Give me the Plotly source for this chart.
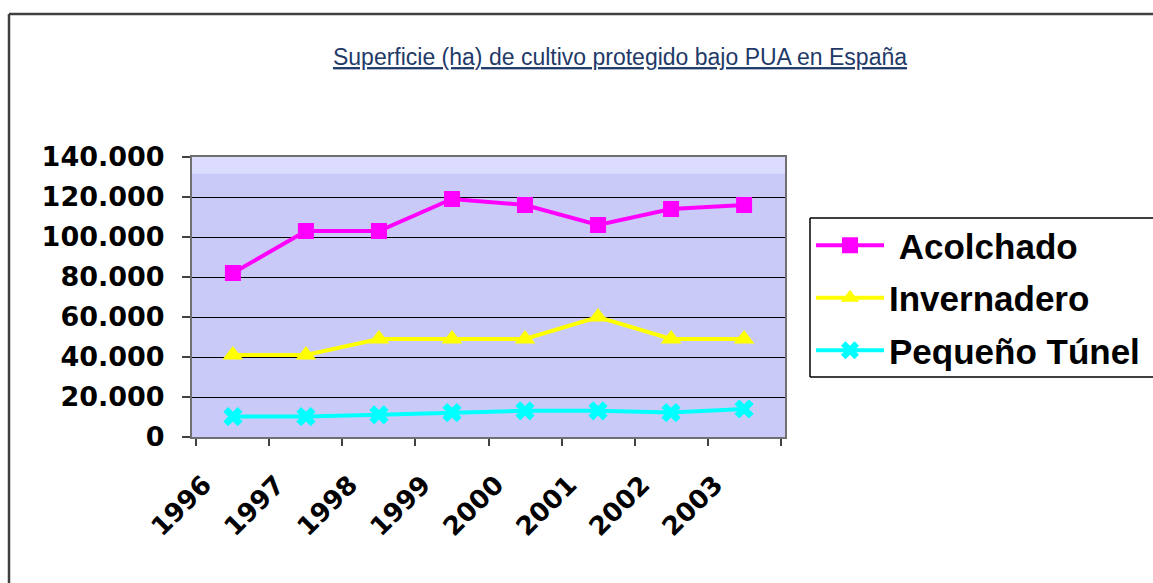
import plotly.graph_objects as go

years = ["1996", "1997", "1998", "1999", "2000", "2001", "2002", "2003"]
acolchado = [82000, 103000, 103000, 119000, 116000, 106000, 114000, 116000]
invernadero = [41000, 41000, 49000, 49000, 49000, 60000, 49000, 49000]
pequeno_tunel = [10200, 10200, 11100, 12200, 13100, 13100, 12200, 14000]
y_ticks = [0, 20000, 40000, 60000, 80000, 100000, 120000, 140000]

title_text = "Superficie (ha) de cultivo protegido bajo PUA en España"

OFF = 0  # body margin removed by post_script
W, H = 1153, 583
# plot area in screen pixels: x 192..785, y 157..437
L = 192 - OFF
T = 157 - OFF
R = W - (785 - OFF)
B = H - (437 - OFF)
pw, ph = W - L - R, H - T - B


def px_x(x):
    return (x - OFF - L) / pw


def px_y(y):
    return (H - B - (y - OFF)) / ph


def hline(x0, x1, y, color, width):
    return dict(type="line", xref="paper", yref="paper",
                x0=px_x(x0), x1=px_x(x1), y0=px_y(y), y1=px_y(y),
                line=dict(color=color, width=width))


def vline(x, y0, y1, color, width):
    return dict(type="line", xref="paper", yref="paper",
                x0=px_x(x), x1=px_x(x), y0=px_y(y0), y1=px_y(y1),
                line=dict(color=color, width=width))


fig = go.Figure()
series = [
    ("\u00a0Acolchado", acolchado, "#FF00FF", "square", 16),
    ("Invernadero", invernadero, "#FFFF00", "triangle-up", 18),
    ("Pequeño Túnel", pequeno_tunel, "#00FFFF", "x", 17),
]
for i, (name, vals, col, sym, sz) in enumerate(series):
    fig.add_trace(go.Scatter(
        x=years, y=vals, name=name, mode="lines+markers",
        line=dict(color=col, width=4),
        marker=dict(color=col, symbol=sym, size=sz, line=dict(width=0)),
        legendgroup=f"g{i}",
    ))

fig.update_layout(
    width=W, height=H,
    margin=dict(l=L, r=R, t=T, b=B, autoexpand=False),
    paper_bgcolor="white",
    plot_bgcolor="#CACAF8",
    separators=",.",
    title=dict(
        text=f"<u>{title_text}</u>",
        x=(620 - OFF) / W, xref="container", xanchor="center",
        y=1 - (57 - OFF) / H, yref="container", yanchor="middle",
        font=dict(family="Liberation Sans, Arial", size=23, color="#1F3A68"),
    ),
    legend=dict(
        x=px_x(811), y=px_y(216), xanchor="left", yanchor="top",
        bgcolor="rgba(0,0,0,0)", borderwidth=0,
        font=dict(family="Liberation Sans, Arial", size=35, color="black", weight="bold"),
        tracegroupgap=4, itemwidth=68,
    ),
    showlegend=True,
    shapes=[
        dict(type="rect", xref="paper", yref="paper", x0=0, x1=1, y0=0.94, y1=1,
             fillcolor="#DCDCFE", line=dict(width=0), layer="below"),
        # outer frame (top and left sides visible)
        hline(9, 1160, 14, "#404040", 2.5),
        vline(9, 14, 590, "#404040", 2.5),
        # legend box (right side beyond the picture)
        hline(810, 1160, 218, "black", 1.5),
        hline(810, 1160, 377, "black", 1.5),
        vline(810, 218, 377, "black", 1.5),
    ],
)

fig.update_xaxes(
    type="category", tickson="boundaries", ticks="outside", ticklen=7,
    tickcolor="#404040", tickwidth=1.5,
    showline=True, linecolor="#707070", linewidth=2, mirror=True,
    showgrid=False, tickangle=-45,
    tickfont=dict(family="DejaVu Sans", size=26, color="black", weight="bold"),
    ticklabelstandoff=20, ticklabelshift=-29,
)
fig.update_yaxes(
    range=[0, 140000], tickvals=y_ticks, tickformat=",d",
    ticks="outside", ticklen=8, tickcolor="#404040", tickwidth=1.5,
    showline=True, linecolor="#707070", linewidth=2, mirror=True,
    showgrid=True, gridcolor="black", gridwidth=1.2, zeroline=False,
    tickfont=dict(family="DejaVu Sans", size=27, color="black", weight="bold"),
    ticklabelstandoff=12,
)

fig.write_html(
    "out.html",
    config={"displayModeBar": False},
    post_script="document.body.style.margin='0';document.body.style.overflow='hidden';",
)
